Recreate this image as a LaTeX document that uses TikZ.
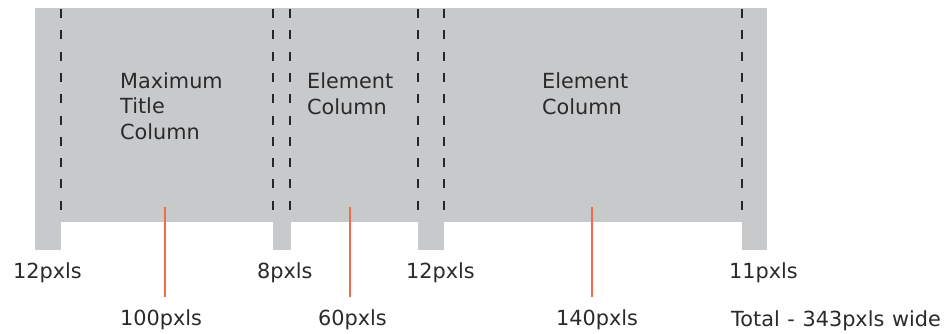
\documentclass[tikz,border=0pt]{standalone}
\usepackage{fontspec}
\setmainfont{DejaVu Sans}
\definecolor{colgray}{HTML}{C8C9CB}
\definecolor{measred}{HTML}{F06A4B}
\definecolor{txt}{HTML}{2A2A2A}
\begin{document}
\begin{tikzpicture}[x=1pt,y=-1pt,
  lab/.style={anchor=base west,inner sep=0pt,text=txt,align=left,
    font=\fontsize{20.8}{25.5}\selectfont},
  guide/.style={draw=black!85,line width=2.5pt,dash pattern=on 9pt off 12.3pt},
  meas/.style={draw=measred,line width=2pt}]
\useasboundingbox (0,0) rectangle (948,333);
% gray band and gutter tabs
\fill[colgray] (35,8) rectangle (767,222);
\fill[colgray] (35,221) rectangle (61,250);
\fill[colgray] (273,221) rectangle (291,250);
\fill[colgray] (418,221) rectangle (444,250);
\fill[colgray] (742,221) rectangle (767,250);
% dashed guides
\foreach \gx in {61,273,290,418,444,742}
  \draw[guide] (\gx,9) -- (\gx,211);
% column texts (base anchor = baseline of last line)
\node[lab] (t1) at (120,139) {Maximum\\Title\\Column};
\node[lab] (t2) at (307,114) {Element\\Column};
\node[lab] (t3) at (542,114) {Element\\Column};
% gutter labels
\node[lab] (g1) at (13,278) {12pxls};
\node[lab] (g2) at (257,278) {8pxls};
\node[lab] (g3) at (406,278) {12pxls};
\node[lab] (g4) at (729,278) {11pxls};
% column width labels
\node[lab] (w1) at (120,325) {100pxls};
\node[lab] (w2) at (318,325) {60pxls};
\node[lab] (w3) at (556,325) {140pxls};
\node[lab] (tot) at (731,326) {Total\hspace{0.05em} -\hspace{0.05em} 343pxls\hspace{0.05em} wide};
% red measure lines
\coordinate (r1) at (165,207);
\coordinate (r2) at (350,207);
\coordinate (r3) at (592,207);
\draw[meas] (r1) -- (165,297);
\draw[meas] (r2) -- (350,297);
\draw[meas] (r3) -- (592,297);
\end{tikzpicture}
\end{document}
